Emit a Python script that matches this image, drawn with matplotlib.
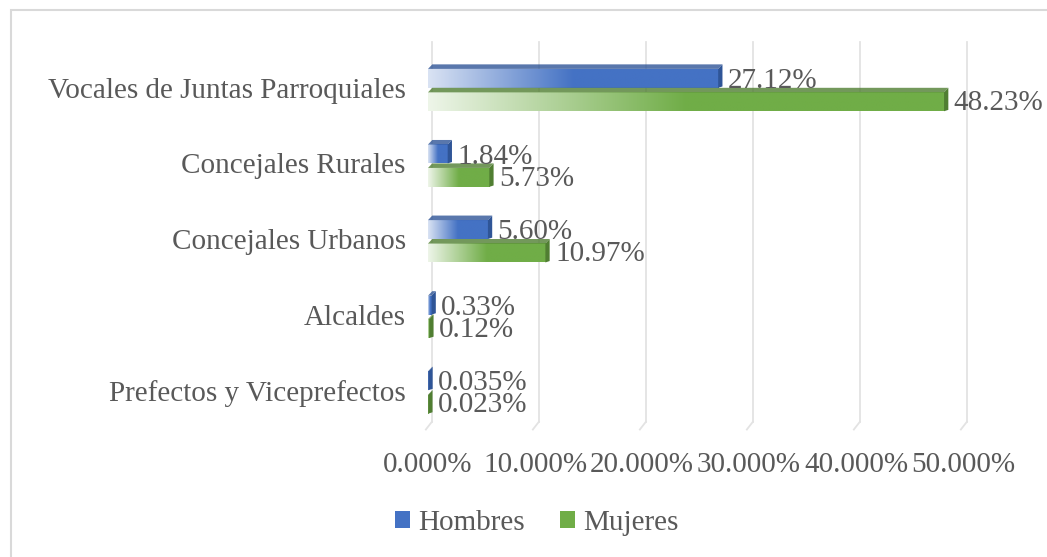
import numpy as np
import matplotlib
matplotlib.use("Agg")
import matplotlib.pyplot as plt
from matplotlib.patches import Polygon, Rectangle, Patch
from matplotlib.colors import LinearSegmentedColormap, to_rgb

categories = ["Prefectos y Viceprefectos", "Alcaldes", "Concejales Urbanos",
              "Concejales Rurales", "Vocales de Juntas Parroquiales"]
hombres = [0.00035, 0.0033, 0.0560, 0.0184, 0.2712]
mujeres = [0.00023, 0.0012, 0.1097, 0.0573, 0.4823]
hombres_labels = ["0.035%", "0.33%", "5.60%", "1.84%", "27.12%"]
mujeres_labels = ["0.023%", "0.12%", "10.97%", "5.73%", "48.23%"]
xticks = [0.0, 0.1, 0.2, 0.3, 0.4, 0.5]
xtick_labels = ["0.000%", "10.000%", "20.000%", "30.000%", "40.000%", "50.000%"]

plt.rcParams['font.family'] = ['Liberation Serif', 'DejaVu Serif']
TXT = "#595959"
BLUE, BLUE_D = "#4472C4", "#2F5597"
GREEN, GREEN_D = "#70AD47", "#507E32"
FS = 21

W, H = 1047, 557
fig = plt.figure(figsize=(W / 100, H / 100), dpi=100)
fig.patch.set_facecolor("white")
# chart border (only top/left visible)
fig.add_artist(Rectangle((11 / W, -0.1), 1.2, (H - 10) / H + 0.1, transform=fig.transFigure,
                         fill=False, edgecolor="#D9D9D9", linewidth=1.5))

ax = fig.add_axes([428 / W, (H - 428) / H, 535 / W, 378 / H])
ax.set_xlim(0, 0.5)
ax.set_ylim(-0.5, 4.5)
for s in ax.spines.values():
    s.set_visible(False)
ax.set_facecolor("none")

y = np.arange(len(categories))
bh = 0.31
dx = 0.004   # 3D depth in x (data)
dy = 0.06    # 3D depth in y (data)

def grad_cmap(c, start_tint):
    r, g, b = to_rgb(c)
    t = start_tint
    return LinearSegmentedColormap.from_list(
        "g", [(0, (1 - t * (1 - r), 1 - t * (1 - g), 1 - t * (1 - b))),
              (0.5, (r, g, b)), (1, (r, g, b))])

def draw_series(vals, offset, col, dcol, tint):
    bars = ax.barh(y + offset, vals, height=bh, color="none", edgecolor="none")
    for rect in bars:
        x0, w = rect.get_x(), rect.get_width()
        y0, h = rect.get_y(), rect.get_height()
        img = np.linspace(0, 1, 256).reshape(1, -1)
        ax.imshow(img, cmap=grad_cmap(col, tint), aspect="auto",
                  extent=(x0, x0 + w, y0, y0 + h - dy), zorder=3, interpolation="bilinear")
        # top face
        ax.add_patch(Polygon([(x0, y0 + h - dy), (x0 + w, y0 + h - dy),
                              (x0 + w + dx, y0 + h), (x0 + dx, y0 + h)],
                             closed=True, facecolor=dcol, edgecolor="none", zorder=3, alpha=0.8))
        # right face
        ax.add_patch(Polygon([(x0 + w, y0), (x0 + w, y0 + h - dy),
                              (x0 + w + dx, y0 + h), (x0 + w + dx, y0 + dy * 0.3)],
                             closed=True, facecolor=dcol, edgecolor="none", zorder=3))
    return bars

draw_series(hombres, bh / 2, BLUE, BLUE_D, 0.2)
draw_series(mujeres, -bh / 2, GREEN, GREEN_D, 0.12)

for i, (v, lab) in enumerate(zip(hombres, hombres_labels)):
    ax.text(v + dx + 0.005, y[i] + 0.09, lab, fontsize=FS, color=TXT, va="center", ha="left", zorder=5)
for i, (v, lab) in enumerate(zip(mujeres, mujeres_labels)):
    ax.text(v + dx + 0.005, y[i] - 0.2, lab, fontsize=FS, color=TXT, va="center", ha="left", zorder=5)

# gridlines with 3D foot
for xt in xticks:
    ax.plot([xt + 0.0035, xt + 0.0035], [-0.42, 4.6], color="#E3E3E3", lw=1.3, zorder=1, clip_on=False)
    ax.plot([xt + 0.0035, xt - 0.002], [-0.42, -0.52], color="#E3E3E3", lw=1.3, zorder=1, clip_on=False)

ax.set_xticks(xticks)
ax.set_xticklabels(xtick_labels, fontsize=FS, color=TXT)
ax.set_yticks(y)
ax.set_yticklabels(categories, fontsize=FS, color=TXT)
ax.tick_params(axis="both", length=0)
ax.tick_params(axis="x", pad=17)
ax.tick_params(axis="y", pad=16)

handles = [Patch(facecolor=BLUE, label="Hombres"), Patch(facecolor=GREEN, label="Mujeres")]
fig.legend(handles=handles, loc="center", bbox_to_anchor=(537 / W, 1 - 523 / H), ncol=2,
           frameon=False, fontsize=FS, handlelength=0.5, handleheight=0.5, handletextpad=0.3,
           columnspacing=1.2, labelcolor=TXT)

fig.savefig("out.png", dpi=100)
